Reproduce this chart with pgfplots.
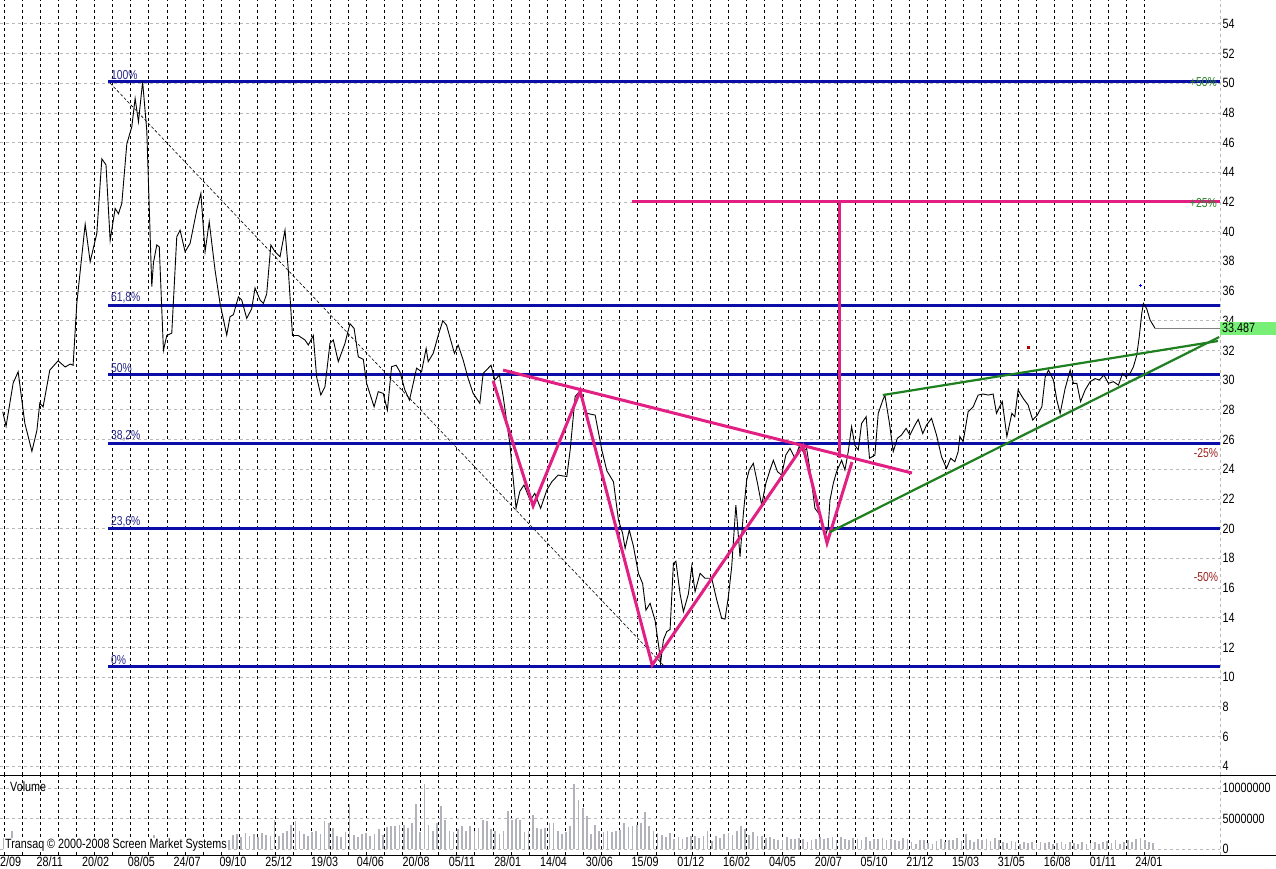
\documentclass[border=0pt]{standalone}
\usepackage{fontspec}
\setmainfont{Liberation Sans}[FakeStretch=0.8]
\usepackage{pgfplots}
\pgfplotsset{compat=1.18}
\definecolor{fibblue}{RGB}{10,14,166}
\definecolor{fiblbl}{RGB}{40,40,140}
\definecolor{pinkl}{RGB}{226,32,132}
\definecolor{greenl}{RGB}{30,128,30}
\definecolor{greentx}{RGB}{40,130,40}
\definecolor{redtx}{RGB}{160,30,30}
\definecolor{boxgreen}{RGB}{120,240,120}
\definecolor{gridgray}{RGB}{185,185,185}
\definecolor{bargray}{RGB}{178,178,186}
\newcommand{\lbl}{\fontsize{13.5}{15}\selectfont}
\newcommand{\sml}{\fontsize{13}{15}\selectfont}
\pgfplotsset{
  chartbase/.style={
    width=1220bp, scale only axis, anchor=south west,
    xmin=-0.96, xmax=292.1,
    axis line style={draw=none},
    yticklabel pos=right,
    xtick={0,11,...,275},
    minor xtick={0,4.35,...,274},
    xminorgrids, ymajorgrids,
    major grid style={gridgray, dash pattern=on 3bp off 3bp, line width=0.6bp},
    minor grid style={black, dash pattern=on 3bp off 3bp, line width=0.8bp},
    major tick length=0pt, minor tick length=0pt,
    tick label style={font=\lbl, inner sep=1bp},
    yticklabel style={anchor=west, xshift=1.5bp},
    /pgf/number format/assume math mode=true,
    clip=false,
  }
}
\begin{document}
\begin{tikzpicture}
\useasboundingbox (0,0) rectangle (1276bp,869bp);
% ---------------- price panel ----------------
\begin{axis}[chartbase,
  at={(0,94bp)}, height=775bp,
  ymin=3.4, ymax=55.6,
  ytick={4,6,...,54},
  xticklabels={},
]
% Fibonacci levels
\addplot[fibblue, line width=3bp] coordinates {(25,50.1) (292.1,50.1)};
\addplot[fibblue, line width=3bp] coordinates {(25,35.05) (292.1,35.05)};
\addplot[fibblue, line width=3bp] coordinates {(25,30.4) (292.1,30.4)};
\addplot[fibblue, line width=3bp] coordinates {(25,25.75) (292.1,25.75)};
\addplot[fibblue, line width=3bp] coordinates {(25,20.0) (292.1,20.0)};
\addplot[fibblue, line width=3bp] coordinates {(25,10.7) (292.1,10.7)};
% thin dashed diagonal
\addplot[black, line width=0.6bp, dash pattern=on 3bp off 2bp] coordinates {(25.5,50) (158.8,10.67)};
% price
\addplot[black, line width=0.9bp] coordinates {
(-0.3,27.87) (0.5,26.9) (2.2,29.8) (3.4,30.56) (5.0,27.1) (6.7,25.2) (7.9,26.6) (8.6,28.45) (9.4,28.2)
(11.0,30.67) (13.0,31.3) (14.7,30.88) (15.9,31.08) (16.6,31.0) (17.5,35.2) (19.5,40.5) (20.7,37.97)
(22.3,39.88) (23.5,44.9) (24.5,44.5) (25.5,39.4) (26.7,41.56) (27.5,41.2) (28.3,41.9) (29.5,45.9)
(30.7,47.06) (31.5,48.97) (32.3,47.4) (33.3,50.1) (34.3,46.8) (35.5,36.3) (35.9,37.9) (36.7,39.1)
(37.3,38.97) (38.3,32.0) (39.1,33.0) (40.3,33.16) (41.5,39.65) (42.3,40.1) (43.5,38.64) (44.7,39.2)
(46.3,41.45) (47.3,42.57) (48.3,38.64) (49.3,40.66) (50.7,37.4) (51.9,35.16) (53.5,33.03) (54.3,34.27)
(55.1,34.4) (56.3,35.6) (57.1,35.4) (58.3,34.16) (59.5,34.8) (60.3,36.2) (61.5,35.4) (62.3,35.16)
(63.1,35.8) (64.1,39.1) (65.1,38.64) (66.3,38.3) (67.5,40.1) (68.3,37.4) (69.3,33.0) (70.7,33.0)
(72.3,32.7) (73.1,32.36) (74.3,33.0) (75.1,30.2) (76.1,29.0) (77.1,29.55) (78.3,32.47) (79.1,32.7)
(80.3,31.24) (81.9,32.47) (83.1,33.8) (84.1,33.48) (85.1,31.57) (86.3,31.4) (87.1,29.78) (88.9,28.2)
(89.9,29.22) (91.1,29.1) (92.1,27.98) (93.1,30.9) (94.2,31.0) (95.1,30.56) (96.3,29.33) (97.4,28.65)
(98.3,29.78) (99.1,30.8) (100.3,30.56) (101.4,32.13) (101.9,31.24) (103.1,31.8) (104.3,33.0) (105.4,34.0)
(106.3,33.7) (107.1,32.9) (108.2,31.8) (109.1,32.36) (110.3,31.35) (111.5,30.1) (112.7,29.1) (114.3,28.43)
(115.1,30.45) (117.0,31.0) (117.9,30.0) (119.0,30.34) (119.9,28.9) (121.5,25.74) (123.0,21.36) (123.9,22.5)
(124.9,22.93) (126.4,21.9) (127.5,22.37) (128.9,21.36) (130.4,22.6) (131.6,23.15) (133.1,23.6) (135.2,23.5)
(136.0,25.3) (137.2,28.9) (138.0,29.15) (139.0,28.65) (140.0,27.76) (142.0,27.64) (143.6,25.3) (144.8,23.9)
(146.4,23.15) (147.6,20.57) (148.6,19.68) (149.2,18.67) (150.2,19.9) (151.2,18.8) (152.4,16.98) (153.4,16.3)
(154.2,14.5) (155.2,14.96) (156.4,13.8) (157.4,11.8) (157.7,10.9) (158.4,12.5) (159.2,13.06) (160.0,13.2)
(160.8,17.66) (161.4,17.8) (162.4,15.6) (163.2,14.4) (164.4,15.6) (165.2,17.43) (166.0,15.75) (167.2,16.98)
(168.4,16.65) (170.0,16.65) (171.2,15.2) (172.4,13.95) (173.2,13.9) (174.0,15.4) (174.8,17.43) (175.8,21.58)
(176.1,20.57) (176.8,18.1) (177.6,21.0) (178.4,23.27) (179.0,23.94) (180.0,24.39) (181.0,23.04) (182.0,21.58)
(183.0,23.04) (184.0,23.94) (184.8,24.6) (185.8,23.83) (186.8,23.6) (187.8,24.95) (188.8,25.4) (190.0,24.73)
(191.0,25.52) (192.0,25.18) (192.8,25.4) (193.6,23.94) (194.8,21.36) (196.0,20.9) (197.2,19.45) (198.0,20.12)
(198.4,21.9) (199.2,23.04) (200.0,23.83) (201.2,24.6) (202.0,23.94) (202.8,25.18) (203.6,26.86) (204.4,25.6)
(205.2,25.3) (206.0,27.08) (207.1,27.53) (207.9,24.73) (209.2,24.95) (210.0,27.76) (211.1,28.65) (211.6,28.99)
(212.7,27.08) (213.6,25.18) (214.6,26.08) (215.6,26.3) (216.7,26.75) (217.6,26.3) (218.6,26.86) (219.6,27.35)
(220.7,26.4) (221.6,26.97) (222.8,27.42) (224.0,26.3) (225.2,24.84) (226.4,24.05) (227.4,24.73) (228.4,24.5)
(229.2,25.18) (229.6,26.2) (230.4,25.85) (231.6,27.87) (232.8,28.2) (234.0,28.99) (235.2,29.06) (236.4,28.99)
(237.6,29.06) (238.4,27.76) (239.8,28.55) (240.9,26.2) (242.1,27.76) (242.8,27.53) (243.6,29.33) (244.8,28.77)
(246.0,28.32) (247.1,27.31) (248.2,27.64) (249.3,28.2) (250.1,30.2) (250.9,30.67) (252.1,30.0) (252.9,28.65)
(253.7,27.76) (254.9,29.44) (256.1,30.67) (256.9,29.78) (257.7,29.78) (258.6,28.55) (259.7,29.33) (260.9,29.89)
(262.1,30.1) (263.1,30.0) (264.2,30.34) (265.3,29.78) (266.5,29.89) (267.7,29.66) (268.7,30.45) (269.5,30.22)
(270.5,30.45) (271.3,30.9) (272.1,31.68) (272.7,32.92) (273.3,34.49) (273.7,35.16) (274.5,34.8) (275.3,34.04)
(276.5,33.48)
};
% last price line
\addplot[gray, line width=0.7bp] coordinates {(276.5,33.487) (292.1,33.487)};
% pink pattern
\addplot[pinkl, line width=3bp] coordinates {(117.5,29.93) (127.1,21.52) (138.4,29.26) (155.7,10.81) (191.9,25.56) (197.7,19.02) (203.7,24.48)};
\addplot[pinkl, line width=3bp] coordinates {(119.9,30.67) (218.1,23.74)};
\addplot[pinkl, line width=3bp] coordinates {(200.8,42) (200.8,24.75)};
\addplot[pinkl, line width=3bp] coordinates {(150.9,42) (292.1,42)};
% green channel
\addplot[greenl, line width=2.2bp] coordinates {(211.1,28.99) (291.6,32.63)};
\addplot[greenl, line width=2.2bp] coordinates {(198.4,19.76) (291.9,32.9)};
% small marks
\addplot[only marks, mark=+, mark size=1.5bp, blue] coordinates {(272.9,36.4)};
\addplot[only marks, mark=square*, mark size=0.8bp, red!70!black] coordinates {(246.0,32.2)};
% labels
\node[anchor=south west, text=fiblbl, font=\sml, inner sep=1.5bp] at (axis cs:25.3,50.1) {100\%};
\node[anchor=south west, text=fiblbl, font=\sml, inner sep=1.5bp] at (axis cs:25.3,35.05) {61,8\%};
\node[anchor=south west, text=fiblbl, font=\sml, inner sep=1.5bp] at (axis cs:25.3,30.4) {50\%};
\node[anchor=south west, text=fiblbl, font=\sml, inner sep=1.5bp] at (axis cs:25.3,25.75) {38,2\%};
\node[anchor=south west, text=fiblbl, font=\sml, inner sep=1.5bp] at (axis cs:25.3,20.0) {23,6\%};
\node[anchor=south west, text=fiblbl, font=\sml, inner sep=1.5bp] at (axis cs:25.3,10.7) {0\%};
\node[anchor=east, text=greentx, font=\sml, inner sep=1bp] at (axis cs:291.6,50.1) {+50\%};
\node[anchor=east, text=greentx, font=\sml, inner sep=1bp] at (axis cs:291.6,41.9) {+25\%};
\node[anchor=east, text=redtx, font=\sml, inner sep=1bp] at (axis cs:291.9,25.1) {-25\%};
\node[anchor=east, text=redtx, font=\sml, inner sep=1bp] at (axis cs:291.9,16.73) {-50\%};
% right axis line
\draw[gridgray, dash pattern=on 3bp off 3bp, line width=0.7bp] (rel axis cs:1,0) -- (rel axis cs:1,1);
% last price box
\fill[boxgreen] (axis cs:292.1,33.05) rectangle ([xshift=56bp]axis cs:292.1,33.92);
\node[anchor=west, font=\lbl, inner sep=0pt, xshift=2bp] at (axis cs:292.1,33.5) {33.487};
\end{axis}
% ---------------- volume panel ----------------
\begin{axis}[chartbase,
  at={(0,14bp)}, height=80bp,
  ymin=-0.98, ymax=12.13,
  ytick={0,5,10}, yticklabels={0,5000000,10000000},
  xtick={11,22,...,275},
  xticklabels={28/11,20/02,08/05,24/07,09/10,25/12,19/03,04/06,20/08,05/11,28/01,14/04,30/06,15/09,01/12,16/02,04/05,20/07,05/10,21/12,15/03,31/05,16/08,01/11,24/01},
  xticklabel style={anchor=center, yshift=-7bp},
]
\addplot[ycomb, draw=bargray, line width=1.7bp, mark=none] table[row sep=\\, header=false, x expr=\coordindex, y index=0] {
1.8\\1.5\\2.9\\1.2\\1.4\\1.0\\1.3\\1.1\\1.5\\1.2\\
1.0\\1.4\\1.1\\1.3\\1.0\\1.2\\1.5\\1.1\\1.6\\1.3\\
1.4\\1.2\\1.0\\1.5\\1.3\\1.1\\1.6\\1.4\\1.2\\1.5\\
1.3\\1.7\\1.2\\1.4\\1.1\\1.5\\2.3\\1.2\\1.4\\1.3\\
1.1\\1.5\\1.2\\1.4\\1.0\\1.3\\1.5\\1.2\\1.1\\1.4\\
1.2\\1.6\\1.3\\1.7\\1.5\\
2.3\\2.5\\2.0\\2.6\\2.2\\2.4\\2.0\\2.6\\2.3\\2.1\\
4.7\\2.2\\2.6\\3.0\\4.0\\4.6\\3.0\\2.5\\2.2\\2.8\\
3.0\\2.4\\4.6\\4.2\\3.5\\2.2\\2.0\\2.8\\7.4\\2.3\\
2.0\\2.4\\2.6\\2.1\\2.4\\3.2\\2.3\\3.6\\3.8\\3.8\\
4.0\\3.9\\3.5\\4.3\\7.4\\2.8\\
10.6\\4.0\\2.9\\4.2\\7.1\\4.7\\3.0\\2.8\\3.3\\3.8\\
3.0\\3.8\\3.0\\3.4\\4.8\\4.6\\3.2\\3.0\\2.5\\3.0\\
6.3\\4.8\\5.0\\4.8\\2.8\\3.0\\5.6\\3.5\\3.3\\3.5\\
4.2\\4.2\\2.9\\2.4\\2.8\\3.8\\10.6\\8.0\\6.8\\5.4\\
2.5\\3.9\\3.0\\2.8\\2.9\\2.8\\2.9\\3.1\\4.2\\3.6\\
3.8\\3.9\\4.2\\6.0\\3.8\\3.0\\2.6\\2.3\\1.9\\2.7\\
1.6\\1.9\\1.6\\2.0\\2.1\\2.2\\1.8\\2.2\\2.9\\1.3\\
2.1\\1.8\\2.5\\2.6\\2.3\\3.0\\3.8\\3.2\\2.3\\2.8\\
2.2\\2.2\\1.8\\2.0\\1.6\\1.4\\1.5\\1.9\\1.6\\1.7\\
1.8\\1.6\\1.1\\1.5\\1.7\\1.9\\1.6\\1.8\\1.9\\1.5\\
1.9\\1.7\\1.4\\1.8\\1.6\\1.5\\1.9\\1.3\\1.7\\1.6\\
1.8\\1.4\\1.7\\1.5\\1.3\\1.8\\1.6\\1.2\\0.8\\1.4\\
1.5\\1.0\\0.9\\1.3\\1.6\\1.2\\1.5\\1.4\\1.8\\1.3\\
2.5\\1.5\\1.2\\1.6\\1.4\\1.7\\1.3\\1.8\\1.5\\1.2\\
1.0\\1.3\\1.1\\0.9\\1.2\\1.0\\1.1\\0.9\\1.2\\1.0\\
1.1\\0.9\\1.0\\1.2\\0.9\\1.1\\1.0\\0.8\\1.1\\0.9\\
1.0\\1.2\\0.9\\1.1\\1.3\\1.0\\1.4\\0.9\\1.2\\1.5\\
1.1\\1.6\\1.8\\1.4\\1.2\\1.0\\
};
\draw[gridgray, dash pattern=on 3bp off 3bp, line width=0.7bp] (rel axis cs:1,0) -- (rel axis cs:1,1);
\end{axis}
% separators and panel texts
\draw[black, line width=0.9bp] (0,94bp) -- (1276bp,94bp);
\draw[black, line width=0.9bp] (0,14bp) -- (1276bp,14bp);
\node[anchor=west, font=\lbl, inner sep=1bp] at (9bp,82bp) {Volume};
\node[anchor=west, font=\lbl, fill=white, inner sep=1bp] at (4bp,24bp) {Transaq \textcopyright{} 2000-2008 Screen Market Systems};
\node[anchor=west, font=\lbl, inner sep=0pt] at (0bp,7bp) {2/09};
\end{tikzpicture}
\end{document}
